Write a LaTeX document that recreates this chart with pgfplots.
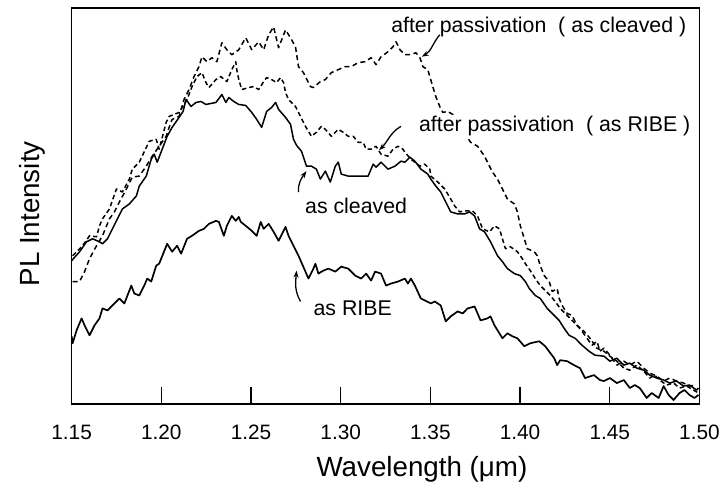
\documentclass[border=0pt]{standalone}
\usepackage{fontspec}
\setmainfont{Liberation Sans}
\usepackage{pgfplots}
\pgfplotsset{compat=1.18}
\usepackage{pgfplotstable}
\usetikzlibrary{arrows.meta}

% px = horizontal position (1.15 um at 72, 1.50 um at 703), py = height from top (intensity = 406 - py)
\pgfplotstableread{
px py
72 338
73 345
77 332
82 320
85 327
90 337
95 327
100 320
103 310
108 312
113 307
120 300
125 305
132 287
135 295
140 297
145 287
148 280
152 283
157 267
160 265
168 245
173 253
178 247
182 255
188 240
193 237
200 232
205 230
210 225
217 222
220 223
225 237
228 227
233 217
237 222
240 218
242 223
247 227
253 232
258 237
262 223
265 230
270 225
275 233
280 242
287 228
290 237
300 257
307 273
310 280
315 270
317 265
320 275
325 272
330 270
337 273
343 268
350 270
357 277
363 280
368 275
373 282
377 273
383 275
388 287
393 285
400 283
407 280
410 285
413 280
417 287
423 300
433 305
437 303
443 307
448 323
453 318
460 313
465 315
470 310
477 308
483 322
490 320
493 318
497 327
505 340
510 335
515 338
520 340
527 348
533 345
542 343
548 348
557 360
560 367
563 362
570 363
577 367
583 370
588 380
597 377
603 382
607 383
613 380
620 385
627 382
633 390
638 387
643 390
650 400
655 395
662 400
667 388
672 397
677 402
683 395
688 392
693 397
698 400
702 397
}\ribe

\pgfplotstableread{
px py
72 262
80 253
87 243
93 240
100 243
103 245
108 240
113 230
118 220
123 210
130 205
137 197
140 187
147 177
152 160
155 155
158 163
163 150
168 137
173 128
180 118
184 112
187 100
192 107
197 103
202 102
207 105
212 104
217 103
223 95
227 103
230 98
235 102
240 105
247 106
253 113
258 120
263 128
268 112
273 108
277 103
280 110
287 118
292 125
295 140
298 146
303 152
308 167
313 167
318 170
322 180
327 172
332 183
337 167
340 163
343 175
350 177
360 177
370 177
375 165
378 168
383 163
390 170
397 167
403 162
407 163
412 158
417 162
423 170
430 175
433 180
438 187
443 193
448 203
453 213
460 215
467 215
472 213
477 217
482 230
487 233
493 243
500 257
505 263
510 270
517 275
523 277
528 283
532 290
538 297
543 300
550 310
557 317
562 322
567 330
572 337
578 340
585 347
592 353
598 357
607 358
613 363
620 360
627 367
633 365
640 370
647 372
653 377
660 380
667 382
673 385
680 383
687 388
693 387
700 392
702 390
}\cleaved

\pgfplotstableread{
px py
73 283
80 283
85 273
90 260
97 247
103 237
110 220
115 213
120 203
127 190
133 178
140 177
147 167
153 157
160 147
167 137
170 128
173 120
180 117
185 100
190 90
195 77
200 67
203 57
208 62
213 58
218 62
223 43
228 50
233 55
240 50
247 38
253 50
260 42
265 50
270 35
275 27
280 48
287 30
292 38
297 47
300 67
305 73
312 87
315 88
322 82
327 80
333 73
340 70
347 67
353 67
360 63
367 62
373 58
378 65
383 57
390 52
395 47
398 42
402 50
407 55
413 55
418 53
422 58
425 67
430 70
432 77
435 87
438 97
442 107
445 113
450 112
455 115
473 143
480 147
487 157
492 167
495 173
500 180
505 190
510 200
517 205
520 213
523 227
527 240
530 250
537 253
540 257
543 267
547 277
552 283
555 293
560 290
562 300
565 307
570 315
575 317
580 327
585 333
590 340
595 347
600 343
603 353
607 350
613 357
620 367
627 363
633 367
640 363
647 370
653 375
660 378
667 383
673 380
680 383
687 385
693 388
700 387
}\pascleaved

\pgfplotstableread{
px py
73 257
83 247
90 237
97 238
100 227
103 220
110 210
117 190
123 193
130 180
133 170
140 163
150 142
157 140
160 150
167 123
170 117
180 113
188 100
193 87
198 77
203 73
207 83
210 88
217 80
222 77
228 82
233 70
237 62
238 70
240 80
243 90
250 88
255 87
260 90
265 82
268 78
273 80
278 83
282 78
285 83
287 93
290 100
297 107
302 117
307 127
313 137
318 133
323 127
327 130
333 137
340 130
345 133
350 137
355 137
360 143
365 143
368 150
373 150
378 147
383 155
390 157
395 150
400 147
405 150
407 153
413 160
422 167
427 165
432 170
433 177
440 183
447 190
453 200
457 207
462 213
467 212
475 212
480 217
485 230
492 233
497 227
502 230
505 240
508 250
513 248
520 253
525 260
528 265
533 272
538 280
543 287
548 292
553 297
558 303
563 310
568 315
573 320
580 327
587 333
593 340
600 350
607 353
613 358
620 363
627 370
633 372
640 367
647 373
653 380
658 377
663 382
670 387
677 385
683 390
690 388
697 392
702 395
}\pasribe

\begin{document}
\begin{tikzpicture}
\begin{axis}[
  scale only axis, width=631bp, height=398bp,
  xmin=1.15, xmax=1.50, ymin=0, ymax=398,
  axis line style={line width=1.6bp},
  xtick={1.15,1.20,1.25,1.30,1.35,1.40,1.45,1.50},
  xticklabels={1.15,1.20,1.25,1.30,1.35,1.40,1.45,1.50},
  xtick pos=bottom, ytick=\empty,
  tick align=inside, major tick length=17bp,
  tick style={line width=1.4bp, black},
  xticklabel style={font=\fontsize{21}{25}\selectfont, yshift=-18bp},
  /pgf/number format/assume math mode=true,
  xlabel={Wavelength (μm)}, ylabel={PL Intensity},
  label style={font=\fontsize{28}{33}\selectfont},
  xlabel style={at={(axis description cs:0.558,-0.165)}, anchor=center},
  ylabel style={at={(axis description cs:-0.062,0.48)}, anchor=center},
  every axis plot/.append style={black, line join=round},
]
\addplot[line width=1.7bp] table[x expr={1.15+(\thisrow{px}-72)*0.35/631}, y expr={406-\thisrow{py}}] {\ribe};
\addplot[line width=1.5bp] table[x expr={1.15+(\thisrow{px}-72)*0.35/631}, y expr={406-\thisrow{py}}] {\cleaved};
\addplot[line width=1.5bp, dash pattern=on 5bp off 3.5bp] table[x expr={1.15+(\thisrow{px}-72)*0.35/631}, y expr={406-\thisrow{py}}] {\pascleaved};
\addplot[line width=1.5bp, dash pattern=on 4.5bp off 3bp] table[x expr={1.15+(\thisrow{px}-72)*0.35/631}, y expr={406-\thisrow{py}}] {\pasribe};

\coordinate (sw) at (rel axis cs:0,0);

\node[fill=white, inner sep=1bp, font=\fontsize{21.5}{25}\selectfont] at (axis cs:1.4104,379) {after passivation~ ( as cleaved )};
\node[fill=white, inner sep=1bp, font=\fontsize{21.5}{25}\selectfont] at (axis cs:1.4193,279) {after passivation~ ( as RIBE )};
\node[fill=white, inner sep=1bp, font=\fontsize{21.5}{25}\selectfont] at (axis cs:1.3086,199) {as cleaved};
\node[fill=white, inner sep=1bp, font=\fontsize{21.5}{25}\selectfont] at (axis cs:1.3067,96) {as RIBE};

\draw[line width=1.3bp, -{Stealth[length=7bp,width=5bp]}] (axis cs:1.3552,371) to[out=230, in=30] (axis cs:1.3452,349);
\draw[line width=1.3bp, -{Stealth[length=7bp,width=5bp]}] (axis cs:1.3336,279) to[out=210, in=45] (axis cs:1.3214,255);
\draw[line width=1.3bp, -{Stealth[length=7bp,width=5bp]}] (axis cs:1.2765,213) to[out=95, in=235] (axis cs:1.2809,234);
\draw[line width=1.3bp, -{Stealth[length=7bp,width=5bp]}] (axis cs:1.2776,103) to[out=120, in=265] (axis cs:1.2754,134);
\end{axis}
\path ([shift={(-72bp,-91bp)}]sw) rectangle ([shift={(651bp,406bp)}]sw);
\end{tikzpicture}
\end{document}
